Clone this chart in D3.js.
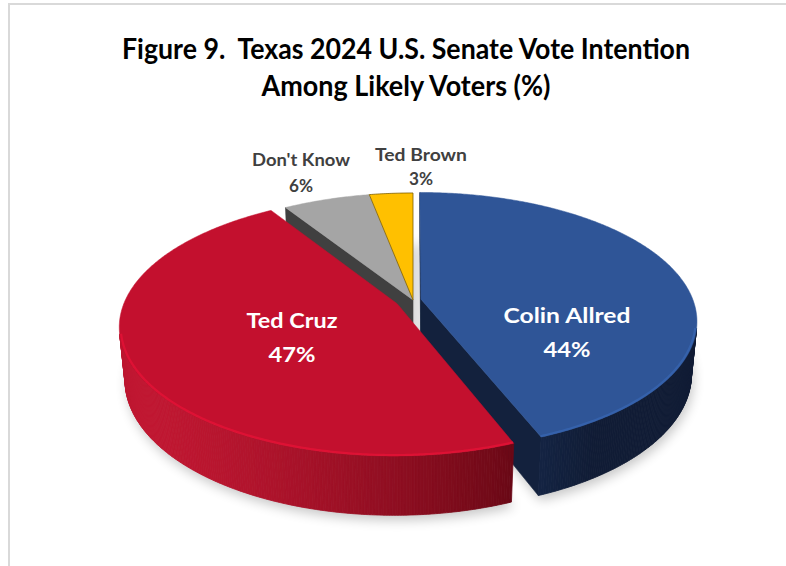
<!DOCTYPE html>
<html>
<head>
<meta charset="utf-8">
<script src="https://cdn.jsdelivr.net/npm/d3@7"></script>
<style>
  html, body { margin: 0; padding: 0; background: #ffffff; }
  svg { display: block; }
  text { font-family: Lato, "Open Sans", "Noto Sans", sans-serif; font-weight: 700; white-space: pre; }
</style>
</head>
<body>
<svg id="chart" width="786" height="566"></svg>
<script>
// ---- data ----
const categories = ["Colin Allred", "Ted Cruz", "Don't Know", "Ted Brown"];
const values = [44, 47, 6, 3];
const titleLines = ["Figure 9.  Texas 2024 U.S. Senate Vote Intention", "Among Likely Voters (%)"];

// ---- styles ----
const topColors  = ["#2F5597", "#C3102E", "#A5A5A5", "#FFC000"];
const sideLight  = ["#24417A", "#C01631", "#8A8A8A", "#C99700"];
const sideDark   = ["#101C35", "#55050F", "#3A3A3A", "#7F6000"];
const wallColors = ["#13213D", "#7A0A1C", "#404040", "#8A6A00"];
const explode    = [0.03, 0.065, 0, 0];          // fraction of radius
const labelFill  = ["#FFFFFF", "#FFFFFF", "#404040", "#404040"];
const labelSize  = [20, 20, 16.5, 16.5];
// label layout: [centre x, first baseline, line gap, name width, value width]
const labelLayout = [
  [567, 323, 34, 127, 47],
  [292, 328, 34, 91, 47],
  [301, 166, 26, 98, 24],
  [421, 161, 24, 92, 24]
];

const svg = d3.select("#chart");
const defs = svg.append("defs");

// chart frame lines
svg.append("path")
  .attr("d", "M9,566 V4 H786")
  .attr("fill", "none")
  .attr("stroke", "#D9D9D9")
  .attr("stroke-width", 2);

// ---- title ----
const title = svg.append("g").attr("text-anchor", "middle").attr("fill", "#000000");
[[59, 568], [96, 289]].forEach(([y, len], i) => {
  title.append("text")
    .attr("x", 406).attr("y", y)
    .attr("font-size", 28)
    .attr("textLength", len)
    .attr("lengthAdjust", "spacingAndGlyphs")
    .text(titleLines[i]);
});

// ---- 3D projection of the pie ----
const cx = 413, cy = 300, K = 272, D = 5.25;
const sinA = 0.46, cosA = Math.sqrt(1 - sinA * sinA);
const thick = 0.22;
const cam = [0, D * sinA, -D * cosA];

function proj(x, y, z) {
  const depth = D - y * sinA + z * cosA;
  const up = y * cosA + z * sinA;
  return [cx + K * D * x / depth, cy - K * D * up / depth];
}
function facing(n, p) {
  return n[0] * (cam[0] - p[0]) + n[1] * (cam[1] - p[1]) + n[2] * (cam[2] - p[2]) > 1e-6;
}
const line = d3.line();

const pie = d3.pie().sort(null).value(d => d).startAngle(0).endAngle(2 * Math.PI);
const arcs = pie(values);

const slices = arcs.map((a, i) => {
  const mid = (a.startAngle + a.endAngle) / 2;
  const ox = explode[i] * Math.sin(mid), oz = explode[i] * Math.cos(mid);
  const P = (t, r, y) => [ox + r * Math.sin(t), y, oz + r * Math.cos(t)];
  const n = Math.max(2, Math.ceil((a.endAngle - a.startAngle) / (Math.PI / 360)));
  const ts = d3.range(n + 1).map(k => a.startAngle + (a.endAngle - a.startAngle) * k / n);
  return { i, a, mid, ox, oz, P, ts };
});

const light = (() => { const v = [-0.85, 0, -0.55]; const l = Math.hypot(...v); return v.map(c => c / l); })();

// soft shadow under the pie
const blur = defs.append("filter").attr("id", "shadow").attr("x", "-20%").attr("y", "-20%").attr("width", "140%").attr("height", "140%");
blur.append("feGaussianBlur").attr("stdDeviation", 6);
const shadowG = svg.append("g").attr("filter", "url(#shadow)").attr("opacity", 0.22).attr("transform", "translate(2,5)");
slices.forEach(s => {
  const pts = [proj(...s.P(0, 0, -thick))].concat(s.ts.map(t => proj(...s.P(t, 1, -thick))));
  shadowG.append("path").attr("d", line(pts) + "Z").attr("fill", "#000");
});

// inner (radial) walls, shown where a slice is pulled away from its neighbour
const walls = [];
slices.forEach((s, idx) => {
  const prev = slices[(idx + slices.length - 1) % slices.length];
  const next = slices[(idx + 1) % slices.length];
  const sides = [
    { t: s.a.startAngle, other: prev, n: [-Math.cos(s.a.startAngle), 0, Math.sin(s.a.startAngle)] },
    { t: s.a.endAngle, other: next, n: [Math.cos(s.a.endAngle), 0, -Math.sin(s.a.endAngle)] }
  ];
  sides.forEach(w => {
    if (explode[s.i] === 0 && explode[w.other.i] === 0) return;
    const pm = s.P(w.t, 0.5, -thick / 2);
    if (!facing(w.n, pm)) return;
    const quad = [s.P(w.t, 0, 0), s.P(w.t, 1, 0), s.P(w.t, 1, -thick), s.P(w.t, 0, -thick)].map(p => proj(...p));
    walls.push({ depth: pm[2], d: line(quad) + "Z", fill: wallColors[s.i] });
  });
});
walls.sort((a, b) => b.depth - a.depth);
svg.append("g").selectAll("path").data(walls).join("path")
  .attr("d", d => d.d).attr("fill", d => d.fill).attr("stroke", d => d.fill).attr("stroke-width", 0.6);

// outer curved walls, shaded by facet orientation
const facets = [];
slices.forEach(s => {
  const mix = d3.interpolateRgb(sideDark[s.i], sideLight[s.i]);
  for (let k = 0; k < s.ts.length - 1; k++) {
    const t0 = s.ts[k], t1 = s.ts[k + 1], tm = (t0 + t1) / 2;
    const n = [Math.sin(tm), 0, Math.cos(tm)];
    const pm = s.P(tm, 1, -thick / 2);
    if (!facing(n, pm)) continue;
    const lit = Math.max(0, n[0] * light[0] + n[2] * light[2]);
    const quad = [s.P(t0, 1, 0), s.P(t1, 1, 0), s.P(t1, 1, -thick), s.P(t0, 1, -thick)].map(p => proj(...p));
    facets.push({ depth: pm[2], d: line(quad) + "Z", fill: mix(lit) });
  }
});
facets.sort((a, b) => b.depth - a.depth);
svg.append("g").selectAll("path").data(facets).join("path")
  .attr("d", d => d.d).attr("fill", d => d.fill).attr("stroke", d => d.fill).attr("stroke-width", 0.8);

// top faces
const tops = svg.append("g");
slices.slice().sort((a, b) => b.oz - a.oz).forEach(s => {
  const pts = [proj(...s.P(0, 0, 0))].concat(s.ts.map(t => proj(...s.P(t, 1, 0))));
  tops.append("path").attr("d", line(pts) + "Z")
    .attr("fill", topColors[s.i])
    .attr("stroke", s.i === 3 ? "#7F6000" : topColors[s.i])
    .attr("stroke-width", s.i === 3 ? 0.8 : 0.5)
    .attr("stroke-linejoin", "round");
  // bevel highlight along the front rim
  const front = s.ts.filter(t => facing([Math.sin(t), 0, Math.cos(t)], s.P(t, 1, -thick / 2)));
  if (front.length > 1) {
    tops.append("path")
      .attr("d", line(front.map(t => proj(...s.P(t, 0.995, 0)))))
      .attr("fill", "none")
      .attr("stroke", d3.color(topColors[s.i]).brighter(0.5))
      .attr("stroke-width", 2.2)
      .attr("stroke-opacity", 0.7);
  }
});

// ---- data labels ----
const labels = svg.append("g").attr("text-anchor", "middle");
categories.forEach((name, i) => {
  const [x, y, gap, w1, w2] = labelLayout[i];
  labels.append("text").attr("x", x).attr("y", y)
    .attr("font-size", labelSize[i]).attr("fill", labelFill[i])
    .attr("textLength", w1).attr("lengthAdjust", "spacingAndGlyphs")
    .text(name);
  labels.append("text").attr("x", x).attr("y", y + gap)
    .attr("font-size", labelSize[i]).attr("fill", labelFill[i])
    .attr("textLength", w2).attr("lengthAdjust", "spacingAndGlyphs")
    .text(values[i] + "%");
});
</script>
</body>
</html>
